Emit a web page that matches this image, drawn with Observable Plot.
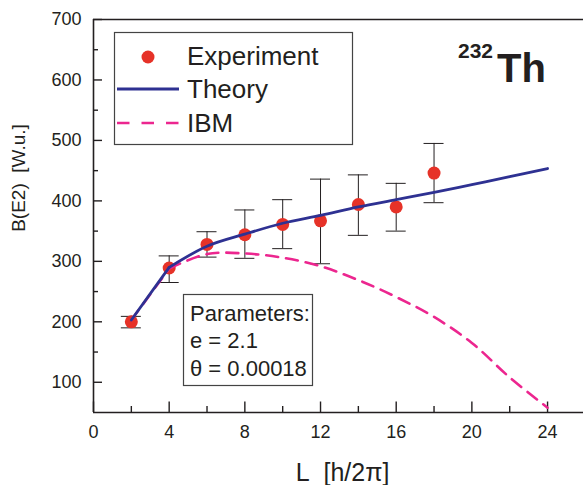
<!DOCTYPE html>
<html>
<head>
<meta charset="utf-8">
<script src="https://cdn.jsdelivr.net/npm/d3@7"></script>
<script src="https://cdn.jsdelivr.net/npm/@observablehq/plot@0.6"></script>
<style>
  html, body { margin: 0; padding: 0; background: #fff; }
  #wrap { position: relative; width: 583px; height: 485px; }
  #wrap svg { display: block; }
  #overlay { position: absolute; left: 0; top: 0; pointer-events: none; }
  #overlay text { white-space: pre; }
</style>
</head>
<body>
<div id="wrap"></div>
<script>
// ---- data ----
const expL = [2, 4, 6, 8, 10, 12, 14, 16, 18];
const expB = [200, 289, 328, 344, 361, 367, 394, 390, 446];
const expLo = [190, 265, 307, 305, 321, 296, 343, 350, 397];
const expHi = [209, 309, 349, 385, 402, 436, 443, 429, 495];

const curveL = [2, 4, 6, 8, 10, 12, 14, 16, 18, 20, 22, 24];
const theoryB = [203, 290, 325, 345, 363, 376, 390, 402, 414, 427, 440, 453.5];
const ibmB = [203, 288, 312, 313, 306, 292, 269, 241, 208, 165, 108, 58];

const xTicks = [0, 4, 8, 12, 16, 20, 24];
const xMinor = [2, 6, 10, 14, 18, 22];
const yTicks = [100, 200, 300, 400, 500, 600, 700];
const yMinor = [150, 250, 350, 450, 550, 650];

const xTitle = "L\u00a0\u00a0[h/2π]";
const yTitle = "B(E2)\u00a0\u00a0[W.u.]";

const exp = expL.map((L, i) => ({L, B: expB[i], lo: expLo[i], hi: expHi[i]}));
const theory = curveL.map((L, i) => ({L, B: theoryB[i]}));
const ibm = curveL.map((L, i) => ({L, B: ibmB[i]}));

const ink = "#231f20";
const red = "#e63228";
const blue = "#2e3192";
const pink = "#ec268f";
const font = "'Liberation Sans', Arial, Helvetica, sans-serif";

const low = d => d.L <= 4;
const high = d => d.L >= 4;

const chart = Plot.plot({
  width: 583,
  height: 485,
  marginLeft: 93,
  marginRight: 0,
  marginTop: 19,
  marginBottom: 73,
  x: {domain: [0, 25.9], ticks: xTicks, tickSize: 0, tickPadding: 13, label: null},
  y: {domain: [50, 700], ticks: yTicks, tickSize: 0, tickPadding: 12, label: null},
  style: {fontFamily: font, fontSize: "18px", color: ink, background: "#fff", overflow: "visible"},
  marks: [
    // frame lines
    Plot.ruleY([50, 700], {stroke: ink, strokeWidth: 1.6}),
    Plot.ruleX([0], {stroke: ink, strokeWidth: 1.6}),
    // inward ticks
    Plot.ruleY(yTicks, {x1: 0, x2: 0, insetRight: -9, stroke: ink, strokeWidth: 1.4}),
    Plot.ruleY(yMinor, {x1: 0, x2: 0, insetRight: -5, stroke: ink, strokeWidth: 1.4}),
    Plot.ruleX(xTicks, {y1: 50, y2: 50, insetTop: -10.5, stroke: ink, strokeWidth: 1.4}),
    Plot.ruleX(xMinor, {y1: 50, y2: 50, insetTop: -6, stroke: ink, strokeWidth: 1.4}),
    // error bars
    Plot.ruleX(exp, {x: "L", y1: "lo", y2: "hi", stroke: ink, strokeWidth: 1}),
    Plot.ruleY(exp, {y: "lo", x1: "L", x2: "L", insetLeft: -10, insetRight: -10, stroke: ink, strokeWidth: 1}),
    Plot.ruleY(exp, {y: "hi", x1: "L", x2: "L", insetLeft: -10, insetRight: -10, stroke: ink, strokeWidth: 1}),
    // experiment points
    Plot.dot(exp, {x: "L", y: "B", r: 6.5, fill: red, stroke: "none"}),
    // IBM
    Plot.line(ibm, {filter: low, x: "L", y: "B", stroke: pink, strokeWidth: 2.6, strokeDasharray: "12,8"}),
    Plot.line(ibm, {filter: high, x: "L", y: "B", curve: "catmull-rom", stroke: pink, strokeWidth: 2.6, strokeDasharray: "12,8"}),
    // Theory
    Plot.line(theory, {filter: low, x: "L", y: "B", stroke: blue, strokeWidth: 2.8}),
    Plot.line(theory, {filter: high, x: "L", y: "B", curve: "catmull-rom", stroke: blue, strokeWidth: 2.8})
  ]
});

const wrap = document.getElementById("wrap");
wrap.appendChild(chart);

// legend / annotations overlay
const NS = "http://www.w3.org/2000/svg";
const ov = document.createElementNS(NS, "svg");
ov.setAttribute("id", "overlay");
ov.setAttribute("width", 583);
ov.setAttribute("height", 485);
ov.setAttribute("font-family", font);
function el(tag, attrs, text) {
  const e = document.createElementNS(NS, tag);
  for (const k in attrs) e.setAttribute(k, attrs[k]);
  if (text != null) e.textContent = text;
  ov.appendChild(e);
  return e;
}
// axis titles
el("text", {transform: "translate(25,178) rotate(-90)", "text-anchor": "middle", "font-size": 19, fill: ink}, yTitle);
el("text", {x: 342.5, y: 481, "text-anchor": "middle", "font-size": 25, fill: ink}, xTitle);
// legend
el("rect", {x: 114.5, y: 32.5, width: 238, height: 112, fill: "#fff", stroke: "#444", "stroke-width": 1.2});
el("circle", {cx: 148, cy: 57, r: 6.5, fill: red});
el("text", {x: 187, y: 65, "font-size": 26, fill: ink}, "Experiment");
el("line", {x1: 117, x2: 179, y1: 89, y2: 89, stroke: blue, "stroke-width": 2.8});
el("text", {x: 187, y: 98, "font-size": 26, fill: ink}, "Theory");
el("line", {x1: 117, x2: 179, y1: 123, y2: 123, stroke: pink, "stroke-width": 2.6, "stroke-dasharray": "12.5,12"});
el("text", {x: 187, y: 132, "font-size": 26, fill: ink}, "IBM");
// parameters box
el("rect", {x: 183.5, y: 294.5, width: 129, height: 91, fill: "#fff", stroke: "#444", "stroke-width": 1.2});
el("text", {x: 190, y: 321, "font-size": 22, fill: ink}, "Parameters:");
el("text", {x: 190, y: 348, "font-size": 22, fill: ink}, "e = 2.1");
el("text", {x: 190, y: 376, "font-size": 22, fill: ink}, "θ = 0.00018");
// nucleus label
el("text", {x: 458, y: 58, "font-size": 21, "font-weight": "bold", fill: ink}, "232");
el("text", {x: 497, y: 82, "font-size": 40, "font-weight": "bold", fill: ink}, "Th");
wrap.appendChild(ov);
</script>
</body>
</html>
